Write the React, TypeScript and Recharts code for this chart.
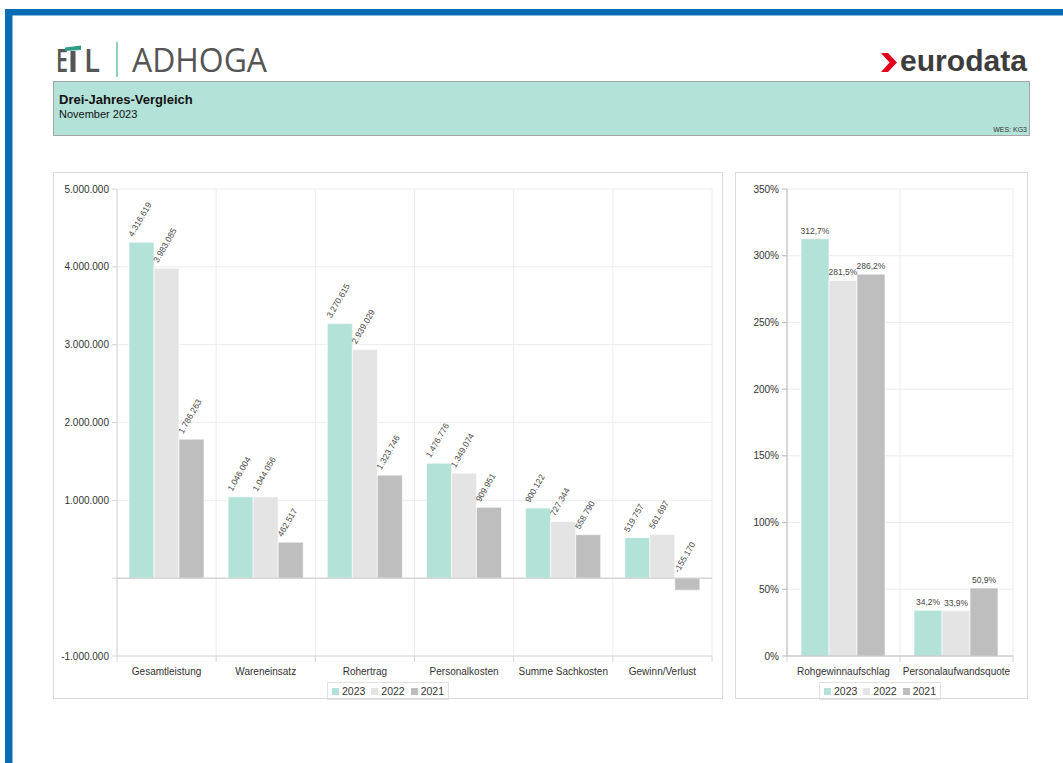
import React from "react";
import { BarChart, Bar, XAxis, YAxis, CartesianGrid, ReferenceLine, Legend, LabelList } from "recharts";

// Betriebsvergleich (absolute Werte)
const categories = ["Gesamtleistung", "Wareneinsatz", "Rohertrag", "Personalkosten", "Summe Sachkosten", "Gewinn/Verlust"];
const values2023 = [4316619, 1046004, 3270615, 1476776, 900122, 519757];
const values2022 = [3983085, 1044056, 2939029, 1349074, 727344, 561697];
const values2021 = [1786263, 462517, 1323746, 909951, 558790, -155170];
const amountTicks = [-1000000, 0, 1000000, 2000000, 3000000, 4000000, 5000000];

// Kennzahlen in Prozent
const ratioCategories = ["Rohgewinnaufschlag", "Personalaufwandsquote"];
const ratio2023 = [312.7, 34.2];
const ratio2022 = [281.5, 33.9];
const ratio2021 = [286.2, 50.9];
const ratioTicks = [0, 50, 100, 150, 200, 250, 300, 350];

const years = ["2023", "2022", "2021"];

const COLORS: Record<string, string> = { "2023": "#b3e2d8", "2022": "#e4e4e4", "2021": "#bebebe" };
const FONT = "'Liberation Sans', Arial, sans-serif";

const amountData = categories.map((name, i) => ({
    name,
    y2023: values2023[i],
    y2022: values2022[i],
    y2021: values2021[i],
}));

const ratioData = ratioCategories.map((name, i) => ({
    name,
    y2023: ratio2023[i],
    y2022: ratio2022[i],
    y2021: ratio2021[i],
}));

const fmtThousands = (v: number) => {
    const s = Math.abs(Math.round(v)).toString().replace(/\B(?=(\d{3})+(?!\d))/g, ".");
    return (v < 0 ? "-" : "") + s;
};
const fmtPercent = (v: number) => v.toFixed(1).replace(".", ",") + "%";

const RotLabel = (props: any) => {
    const { x, y, height, value } = props;
    const top = Math.min(y, y + height);
    const tx = x + 4;
    const ty = top - 5;
    return (
        <text x={tx} y={ty} transform={`rotate(-60 ${tx} ${ty})`} fontSize={8.5} fill="#444">
            {fmtThousands(value)}
        </text>
    );
};

const TopLabel = (props: any) => {
    const { x, y, width, value } = props;
    return (
        <text x={x + width / 2} y={y - 5} textAnchor="middle" fontSize={8.5} fill="#444">
            {fmtPercent(value)}
        </text>
    );
};

const TICK_SIZE = 6;

const makeTick = (bandWidth: number, count: number) => (props: any) => {
    const { x, y, payload, index } = props;
    const axisY = y - TICK_SIZE;
    return (
        <g>
            <line x1={x - bandWidth / 2} x2={x - bandWidth / 2} y1={axisY} y2={axisY + TICK_SIZE} stroke="#d6d6d6" />
            {index === count - 1 && (
                <line x1={x + bandWidth / 2} x2={x + bandWidth / 2} y1={axisY} y2={axisY + TICK_SIZE} stroke="#d6d6d6" />
            )}
            <text x={x} y={axisY + 18.5} textAnchor="middle" fontSize={10} fill="#333">
                {payload.value}
            </text>
        </g>
    );
};

const boundaries = (count: number) => ({ offset }: any) =>
    Array.from({ length: count + 1 }, (_, i) => offset.left + (i * offset.width) / count);

const LegendBox = ({ payload, shift }: any) => {
    const items = [...(payload || [])].sort((a: any, b: any) => years.indexOf(a.value) - years.indexOf(b.value));
    return (
        <div style={{ textAlign: "center", height: 18, paddingLeft: shift }}>
            <div
                style={{
                    display: "inline-block",
                    border: "1px solid #e2e2e2",
                    padding: "0 4px",
                    height: 16,
                    lineHeight: "16px",
                    fontSize: 10.5,
                    color: "#333",
                    fontFamily: FONT,
                }}
            >
                {items.map((p: any, i: number) => (
                    <span key={p.value} style={{ marginLeft: i === 0 ? 0 : 6 }}>
                        <span
                            style={{
                                display: "inline-block",
                                width: 7,
                                height: 7,
                                background: p.color,
                                marginRight: 3,
                            }}
                        />
                        {p.value}
                    </span>
                ))}
            </div>
        </div>
    );
};

const Header = () => (
    <svg width={1063} height={763} style={{ position: "absolute", left: 0, top: 0 }}>
        <rect x={5} y={9} width={1058} height={6.5} fill="#0a6cb5" />
        <rect x={5} y={9} width={7.5} height={754} fill="#0a6cb5" />

        {/* ETL | ADHOGA */}
        <text x={56} y={72} fontFamily="'Open Sans', sans-serif" fontWeight={600} fontSize={33} fill="#555" textLength={12} lengthAdjust="spacingAndGlyphs">E</text>
        <polygon points="65,47.5 81,45.5 81,50 65,51" fill="#2f9d86" />
        <rect x={70.5} y={51} width={5} height={21} fill="#555" />
        <text x={84} y={72} fontFamily="'Open Sans', sans-serif" fontWeight={600} fontSize={33} fill="#555" textLength={16} lengthAdjust="spacingAndGlyphs">L</text>
        <line x1={117} x2={117} y1={42} y2={77} stroke="#6cc0ab" strokeWidth={1.5} />
        <text x={132} y={72} fontFamily="'Open Sans', sans-serif" fontSize={33} fill="#555" textLength={135} lengthAdjust="spacingAndGlyphs">
            ADHOGA
        </text>

        {/* eurodata */}
        <polygon points="881,53 888,53 897,62.5 888,72 881,72 889.5,62.5" fill="#e2001a" />
        <text x={900} y={71} fontFamily={FONT} fontWeight={700} fontSize={30} fill="#3d3d3d" textLength={127} lengthAdjust="spacingAndGlyphs">
            eurodata
        </text>

        <rect x={53.5} y={81.5} width={976} height={54} fill="#b3e2d8" stroke="#a6a6a6" />
        <text x={59} y={104} fontFamily={FONT} fontWeight={700} fontSize={13} fill="#111">Drei-Jahres-Vergleich</text>
        <text x={59} y={118} fontFamily={FONT} fontSize={11} fill="#111">November 2023</text>
        <text x={1027} y={132} textAnchor="end" fontFamily={FONT} fontSize={7} fill="#333">WES: KG3</text>

        <rect x={53.5} y={172.5} width={669} height={526} fill="none" stroke="#dadada" />
        <rect x={735.5} y={172.5} width={292} height={526} fill="none" stroke="#dadada" />
    </svg>
);

export default function App() {
    const leftW = 670;
    const leftMargin = { top: 17, right: 11, left: 0, bottom: 1 };
    const leftBand = (leftW - 64 - leftMargin.right) / categories.length;

    const rightW = 293;
    const rightMargin = { top: 17, right: 15, left: 0, bottom: 1 };
    const rightBand = (rightW - 52 - rightMargin.right) / ratioCategories.length;

    const yearKeys = years.map((y) => ({ year: y, key: "y" + y }));

    return (
        <div style={{ position: "absolute", left: 0, top: 0, width: 1063, height: 763, background: "#fff", fontFamily: FONT }}>
            <Header />

            <div style={{ position: "absolute", left: 53, top: 172 }}>
                <BarChart width={leftW} height={528} data={amountData} margin={leftMargin} barCategoryGap={12} barGap={0}>
                    <CartesianGrid stroke="#ececec" verticalCoordinatesGenerator={boundaries(categories.length)} />
                    <XAxis
                        dataKey="name"
                        height={25}
                        interval={0}
                        tickSize={TICK_SIZE}
                        tickMargin={0}
                        tickLine={false}
                        axisLine={{ stroke: "#dcdcdc" }}
                        tick={makeTick(leftBand, categories.length)}
                    />
                    <YAxis
                        width={64}
                        domain={[-1000000, 5000000]}
                        ticks={amountTicks}
                        interval={0}
                        tickSize={5}
                        tickMargin={3}
                        axisLine={{ stroke: "#d6d6d6" }}
                        tickLine={{ stroke: "#d6d6d6" }}
                        tick={{ fontSize: 10, fill: "#333" }}
                        tickFormatter={(v: number) => (v === 0 ? "" : fmtThousands(v))}
                    />
                    <ReferenceLine y={0} stroke="#c8c8c8" />
                    {yearKeys.map(({ year, key }) => (
                        <Bar key={key} dataKey={key} name={year} fill={COLORS[year]} stroke="#ffffff" strokeWidth={0.6} isAnimationActive={false}>
                            <LabelList dataKey={key} content={RotLabel} />
                        </Bar>
                    ))}
                    <Legend verticalAlign="bottom" height={18} content={<LegendBox shift={11} />} />
                </BarChart>
            </div>

            <div style={{ position: "absolute", left: 735, top: 172 }}>
                <BarChart width={rightW} height={528} data={ratioData} margin={rightMargin} barCategoryGap={14} barGap={0}>
                    <CartesianGrid stroke="#ececec" verticalCoordinatesGenerator={boundaries(ratioCategories.length)} />
                    <XAxis
                        dataKey="name"
                        height={25}
                        interval={0}
                        tickSize={TICK_SIZE}
                        tickMargin={0}
                        tickLine={false}
                        axisLine={{ stroke: "#bdbdbd" }}
                        tick={makeTick(rightBand, ratioCategories.length)}
                    />
                    <YAxis
                        width={52}
                        domain={[0, 350]}
                        ticks={ratioTicks}
                        interval={0}
                        tickSize={5}
                        tickMargin={3}
                        axisLine={{ stroke: "#b8b8b8" }}
                        tickLine={{ stroke: "#b8b8b8" }}
                        tick={{ fontSize: 10, fill: "#333" }}
                        tickFormatter={(v: number) => v + "%"}
                    />
                    {yearKeys.map(({ year, key }) => (
                        <Bar key={key} dataKey={key} name={year} fill={COLORS[year]} stroke="#ffffff" strokeWidth={0.6} isAnimationActive={false}>
                            <LabelList dataKey={key} content={TopLabel} />
                        </Bar>
                    ))}
                    <Legend verticalAlign="bottom" height={18} content={<LegendBox shift={12} />} />
                </BarChart>
            </div>
        </div>
    );
}
